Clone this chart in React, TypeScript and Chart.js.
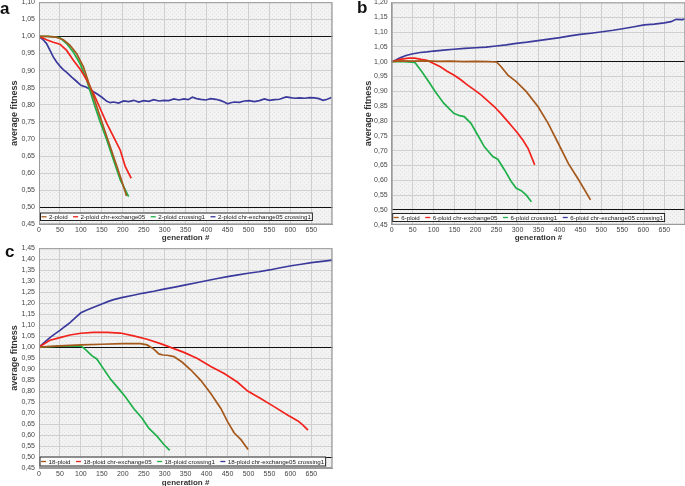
import React, { useEffect, useRef } from "react";
import { Chart, registerables } from "chart.js";
Chart.register(...registerables);

// ---------- data: generation numbers and average fitness ----------
// panel a (2-ploid)
const aBrownGen = [0, 20, 40, 58, 74, 90, 106, 122, 138, 154, 170, 186, 202, 209];
const aBrownVal = [1.0, 1.0, 0.998, 0.99, 0.974, 0.949, 0.911, 0.852, 0.794, 0.735, 0.677, 0.619, 0.56, 0.533];
const aRedGen = [0, 18, 34, 50, 66, 82, 100, 114, 130, 146, 162, 178, 194, 206, 220];
const aRedVal = [1.0, 0.99, 0.983, 0.977, 0.959, 0.93, 0.901, 0.872, 0.833, 0.789, 0.745, 0.706, 0.667, 0.619, 0.585];
const aGreenGen = [0, 20, 40, 50, 66, 82, 98, 114, 130, 146, 162, 178, 194, 214];
const aGreenVal = [1.0, 1.0, 0.998, 0.996, 0.979, 0.954, 0.92, 0.872, 0.808, 0.75, 0.696, 0.638, 0.58, 0.531];
const aBlueGen = [0, 10, 18, 26, 34, 42, 50, 58, 66, 78, 90, 100, 112, 122, 130, 138, 150, 162, 170, 178, 190, 202, 214, 226, 238, 250, 262, 274, 286, 298, 310, 322, 334, 346, 356, 366, 376, 386, 398, 410, 422, 434, 442, 450, 458, 466, 478, 490, 502, 514, 526, 538, 550, 562, 574, 590, 600, 610, 622, 634, 646, 658, 668, 678, 688, 698];
const aBlueVal = [1.0, 0.99, 0.979, 0.96, 0.94, 0.925, 0.913, 0.903, 0.895, 0.881, 0.868, 0.857, 0.852, 0.845, 0.838, 0.832, 0.822, 0.81, 0.806, 0.808, 0.805, 0.811, 0.809, 0.813, 0.808, 0.812, 0.81, 0.815, 0.811, 0.813, 0.812, 0.817, 0.814, 0.817, 0.815, 0.822, 0.818, 0.816, 0.814, 0.818, 0.816, 0.812, 0.808, 0.803, 0.806, 0.808, 0.807, 0.811, 0.812, 0.809, 0.812, 0.817, 0.813, 0.815, 0.816, 0.823, 0.821, 0.819, 0.82, 0.819, 0.821, 0.82, 0.818, 0.813, 0.816, 0.821];

// panel b (6-ploid)
const bBrownGen = [0, 20, 50, 80, 110, 140, 170, 200, 230, 250, 261, 277, 297, 321, 349, 373, 397, 421, 446, 474];
const bBrownVal = [1.0, 1.003, 1.002, 1.003, 1.001, 1.002, 1.0, 1.001, 1.0, 0.999, 0.983, 0.955, 0.933, 0.899, 0.848, 0.792, 0.725, 0.657, 0.601, 0.534];
const bRedGen = [0, 20, 40, 55, 70, 84, 100, 116, 132, 148, 164, 181, 197, 213, 229, 245, 261, 277, 289, 301, 313, 325, 341];
const bRedVal = [1.0, 1.008, 1.012, 1.012, 1.008, 1.005, 0.994, 0.983, 0.968, 0.955, 0.94, 0.921, 0.905, 0.888, 0.868, 0.848, 0.824, 0.798, 0.778, 0.758, 0.735, 0.708, 0.652];
const bGreenGen = [0, 30, 55, 72, 88, 104, 124, 148, 162, 173, 189, 205, 221, 241, 253, 269, 285, 297, 309, 321, 333];
const bGreenVal = [1.0, 1.0, 0.998, 0.966, 0.933, 0.899, 0.86, 0.826, 0.818, 0.815, 0.792, 0.753, 0.713, 0.68, 0.671, 0.635, 0.596, 0.573, 0.565, 0.55, 0.528];
const bBlueGen = [0, 10, 20, 34, 48, 68, 84, 100, 124, 148, 174, 200, 225, 249, 273, 297, 323, 349, 375, 401, 425, 449, 475, 502, 528, 554, 578, 602, 626, 650, 666, 678, 692, 706];
const bBlueVal = [1.0, 1.006, 1.013, 1.021, 1.026, 1.031, 1.033, 1.036, 1.039, 1.042, 1.045, 1.047, 1.049, 1.053, 1.057, 1.062, 1.066, 1.071, 1.076, 1.081, 1.087, 1.092, 1.096, 1.101, 1.106, 1.112, 1.118, 1.124, 1.127, 1.131, 1.135, 1.143, 1.142, 1.146];

// panel c (18-ploid)
const cBrownGen = [0, 50, 100, 150, 200, 242, 258, 274, 286, 296, 306, 322, 342, 362, 386, 410, 434, 450, 466, 482, 499];
const cBrownVal = [1.0, 1.006, 1.01, 1.013, 1.016, 1.016, 1.01, 0.991, 0.969, 0.964, 0.963, 0.957, 0.931, 0.897, 0.849, 0.789, 0.721, 0.661, 0.609, 0.579, 0.534];
const cRedGen = [0, 26, 50, 74, 100, 130, 162, 194, 226, 258, 290, 314, 346, 378, 410, 442, 474, 498, 530, 562, 594, 618, 630, 642];
const cRedVal = [1.0, 1.031, 1.043, 1.055, 1.063, 1.067, 1.067, 1.064, 1.051, 1.036, 1.016, 0.999, 0.976, 0.948, 0.912, 0.88, 0.84, 0.8, 0.765, 0.728, 0.69, 0.664, 0.645, 0.622];
const cGreenGen = [0, 50, 100, 110, 126, 138, 154, 170, 190, 206, 226, 246, 262, 282, 298, 312];
const cGreenVal = [1.0, 1.004, 1.006, 0.991, 0.961, 0.946, 0.901, 0.856, 0.811, 0.774, 0.721, 0.676, 0.631, 0.594, 0.557, 0.53];
const cBlueGen = [0, 13, 26, 38, 50, 62, 74, 87, 100, 113, 126, 138, 150, 164, 178, 190, 200, 225, 250, 274, 298, 324, 350, 376, 402, 426, 450, 475, 499, 525, 550, 576, 602, 626, 650, 676, 700];
const cBlueVal = [1.0, 1.022, 1.043, 1.06, 1.076, 1.094, 1.111, 1.134, 1.156, 1.168, 1.178, 1.187, 1.196, 1.207, 1.216, 1.222, 1.226, 1.236, 1.246, 1.254, 1.264, 1.273, 1.283, 1.293, 1.303, 1.312, 1.321, 1.329, 1.336, 1.343, 1.351, 1.361, 1.37, 1.377, 1.384, 1.39, 1.396];

const aLabels = ["2-ploid", "2-ploid chr-exchange05", "2-ploid crossing1", "2-ploid chr-exchange05 crossing1"];
const bLabels = ["6-ploid", "6-ploid chr-exchange05", "6-ploid crossing1", "6-ploid chr-exchange05 crossing1"];
const cLabels = ["18-ploid", "18-ploid chr-exchange05", "18-ploid crossing1", "18-ploid chr-exchange05 crossing1"];

const xTitle = "generation #";
const yTitle = "average fitness";

// ---------- styles ----------
const COLORS = ["#a5581c", "#f2231d", "#20b04a", "#3a3a9c"];
const FONT = '"Liberation Sans", Arial, sans-serif';

const zip = (g: number[], v: number[]) => g.map((x, i) => ({ x, y: v[i] }));

let bgPattern: CanvasPattern | null = null;
function getPattern(ctx: CanvasRenderingContext2D) {
  if (bgPattern) return bgPattern;
  const c = document.createElement("canvas");
  c.width = 4;
  c.height = 4;
  const p = c.getContext("2d")!;
  p.fillStyle = "#f2f2f2";
  p.fillRect(0, 0, 4, 4);
  p.fillStyle = "#e4e4e4";
  p.fillRect(0, 0, 1, 1);
  p.fillRect(2, 2, 1, 1);
  bgPattern = ctx.createPattern(c, "repeat");
  return bgPattern;
}

const plotDeco = {
  id: "plotDeco",
  beforeDraw(chart: any) {
    const { ctx, chartArea: a } = chart;
    ctx.save();
    ctx.fillStyle = getPattern(ctx) || "#f2f2f2";
    ctx.fillRect(a.left, a.top, a.right - a.left, a.bottom - a.top);
    ctx.restore();
  },
  afterDraw(chart: any, _args: any, opts: any) {
    const { ctx, chartArea: a } = chart;
    ctx.save();
    // plot border
    ctx.strokeStyle = "#9a9a9a";
    ctx.lineWidth = 1;
    ctx.strokeRect(a.left + 0.5, a.top + 0.5, a.right - a.left - 1, a.bottom - a.top - 1);
    // legend inside plot
    const fs = opts.fontSize || 6;
    ctx.font = `${fs}px ${FONT}`;
    const ds = chart.data.datasets;
    const markerW = 5, markerGap = 2.5, itemGap = 5.5, padL = 1.5, padR = 2;
    let w = padL + padR;
    const widths = ds.map((d: any) => ctx.measureText(d.label).width);
    widths.forEach((tw: number, i: number) => {
      w += markerW + markerGap + tw + (i < ds.length - 1 ? itemGap : 0);
    });
    const h = opts.boxH;
    const x0 = a.left + opts.dx;
    const y1 = a.bottom - opts.dy;
    const y0 = y1 - h;
    ctx.fillStyle = "#fbfbfb";
    ctx.fillRect(x0, y0, w, h);
    ctx.strokeStyle = "#222";
    ctx.lineWidth = 1;
    ctx.strokeRect(x0 + 0.5, y0 + 0.5, w - 1, h - 1);
    let x = x0 + padL;
    const cy = y0 + h / 2;
    ds.forEach((d: any, i: number) => {
      ctx.strokeStyle = d.borderColor;
      ctx.lineWidth = 1.3;
      ctx.beginPath();
      ctx.moveTo(x, cy);
      ctx.lineTo(x + markerW, cy);
      ctx.stroke();
      x += markerW + markerGap;
      ctx.fillStyle = "#222";
      ctx.textBaseline = "middle";
      ctx.textAlign = "left";
      ctx.fillText(d.label, x, cy + 0.3);
      x += widths[i] + itemGap;
    });
    ctx.restore();
  },
};

type PanelCfg = {
  left: number;
  top: number;
  W: number;
  H: number;
  pt: number;
  pr: number;
  yw: number;
  xh: number;
  ymin: number;
  ymax: number;
  ytPad: number;
  xtPad: number;
  labels: string[];
  series: { x: number; y: number }[][];
  legend: { dx: number; dy: number; boxH: number };
};

function buildConfig(c: PanelCfg): any {
  return {
    type: "line",
    data: {
      datasets: c.series.map((data, i) => ({
        label: c.labels[i],
        data,
        borderColor: COLORS[i],
        backgroundColor: COLORS[i],
        borderWidth: 1.7,
        pointRadius: 0,
        tension: 0,
        fill: false,
      })),
    },
    options: {
      responsive: false,
      animation: false,
      events: [],
      layout: { padding: { top: c.pt, right: c.pr, left: 0, bottom: 0 } },
      plugins: {
        legend: { display: false },
        tooltip: { enabled: false },
        plotDeco: { ...c.legend, fontSize: 6.2 },
      },
      scales: {
        x: {
          type: "linear",
          min: 0,
          max: 700,
          afterFit: (s: any) => {
            s.height = c.xh;
          },
          ticks: {
            stepSize: 50,
            includeBounds: false,
            autoSkip: false,
            maxRotation: 0,
            padding: 1.5,
            color: "#444",
            font: { family: FONT, size: 7 },
            callback: (v: number) => (v > 650 ? "" : String(v)),
          },
          grid: { color: "#cfcfcf", lineWidth: 1, drawTicks: false },
          border: { display: true, color: "#9a9a9a" },
          title: {
            display: true,
            text: xTitle,
            color: "#333",
            font: { family: FONT, size: 8, weight: "bold" },
            padding: { top: 0, bottom: c.xtPad },
          },
        },
        y: {
          type: "linear",
          min: c.ymin,
          max: c.ymax,
          afterFit: (s: any) => {
            s.width = c.yw;
          },
          ticks: {
            stepSize: 0.05,
            autoSkip: false,
            padding: 4,
            color: "#444",
            font: { family: FONT, size: 7 },
            callback: (v: number) => v.toFixed(2).replace(".", ","),
          },
          grid: {
            drawTicks: false,
            lineWidth: 1,
            color: (ctx: any) => {
              const v = ctx.tick ? ctx.tick.value : NaN;
              return Math.abs(v - 1) < 1e-6 || Math.abs(v - 0.5) < 1e-6 ? "#111" : "#cfcfcf";
            },
          },
          border: { display: true, color: "#9a9a9a" },
          title: {
            display: true,
            text: yTitle,
            color: "#333",
            font: { family: FONT, size: 9, weight: "bold" },
            padding: { top: c.ytPad, bottom: 0 },
          },
        },
      },
    },
    plugins: [plotDeco],
  };
}

function Panel({ cfg }: { cfg: PanelCfg }) {
  const ref = useRef<HTMLCanvasElement>(null);
  useEffect(() => {
    const chart = new Chart(ref.current as HTMLCanvasElement, buildConfig(cfg));
    return () => chart.destroy();
  }, []);
  return (
    <canvas
      ref={ref}
      width={cfg.W}
      height={cfg.H}
      style={{ position: "absolute", left: cfg.left, top: cfg.top, width: cfg.W, height: cfg.H }}
    />
  );
}

const panelA: PanelCfg = {
  left: 0, top: -6, W: 336, H: 252, pt: 8, pr: 3.7, yw: 39, xh: 21.6,
  ymin: 0.45, ymax: 1.1, ytPad: 9.6, xtPad: 3.5,
  labels: aLabels,
  series: [zip(aBrownGen, aBrownVal), zip(aRedGen, aRedVal), zip(aGreenGen, aGreenVal), zip(aBlueGen, aBlueVal)],
  legend: { dx: 1, dy: 3.4, boxH: 8.5 },
};
const panelB: PanelCfg = {
  left: 352, top: -6, W: 337, H: 252, pt: 8.4, pr: 3.7, yw: 39.7, xh: 21.2,
  ymin: 0.45, ymax: 1.2, ytPad: 11.6, xtPad: 3.5,
  labels: bLabels,
  series: [zip(bBrownGen, bBrownVal), zip(bRedGen, bRedVal), zip(bGreenGen, bGreenVal), zip(bBlueGen, bBlueVal)],
  legend: { dx: 0.5, dy: 2.8, boxH: 9 },
};
const panelC: PanelCfg = {
  left: 0, top: 240, W: 336, H: 250, pt: 6.7, pr: 3.7, yw: 39, xh: 22,
  ymin: 0.45, ymax: 1.45, ytPad: 9.6, xtPad: 2.5,
  labels: cLabels,
  series: [zip(cBrownGen, cBrownVal), zip(cRedGen, cRedVal), zip(cGreenGen, cGreenVal), zip(cBlueGen, cBlueVal)],
  legend: { dx: 0.5, dy: 1.5, boxH: 10 },
};

const letterStyle: React.CSSProperties = {
  position: "absolute",
  fontFamily: FONT,
  fontWeight: "bold",
  fontSize: 17,
  lineHeight: "16px",
  color: "#111",
};

export default function App() {
  return (
    <div
      style={{
        position: "fixed",
        left: 0,
        top: 0,
        width: 685,
        height: 486,
        overflow: "hidden",
        background: "#fff",
      }}
    >
      <Panel cfg={panelA} />
      <Panel cfg={panelB} />
      <Panel cfg={panelC} />
      <div style={{ ...letterStyle, left: 0, top: 0.5 }}>a</div>
      <div style={{ ...letterStyle, left: 357, top: -0.5 }}>b</div>
      <div style={{ ...letterStyle, left: 5, top: 243.5 }}>c</div>
    </div>
  );
}
